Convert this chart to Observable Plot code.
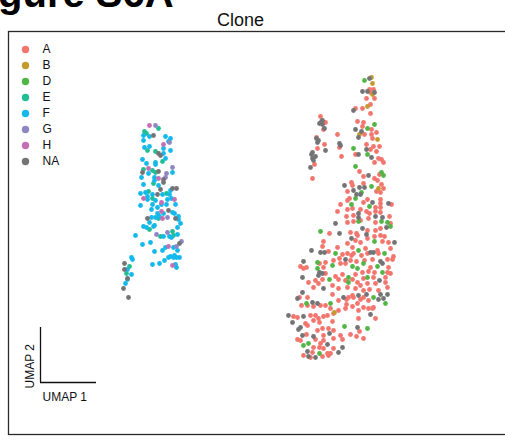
<!DOCTYPE html>
<html>
<head>
<meta charset="utf-8">
<script src="https://cdn.jsdelivr.net/npm/d3@7"></script>
<script src="https://cdn.jsdelivr.net/npm/@observablehq/plot@0.6"></script>
<style>
  html, body { margin: 0; padding: 0; background: #fff; overflow: hidden; }
  #wrap { position: relative; width: 505px; height: 441px; }
  #wrap > svg { position: absolute; left: 0; top: 0; }
</style>
</head>
<body>
<div id="wrap"></div>
<script>
// Clone categories, their colours and labels
const categories = ["A", "B", "D", "E", "F", "G", "H", "NA"];
const cloneColors = ["#F3766E", "#C39A2D", "#52B646", "#22BD93", "#14B9EB", "#8E87C3", "#C56EB3", "#747476"];
const plotTitle = "Clone";
const figureLabel = "Figure S6A";
const axisLabels = ["UMAP 1", "UMAP 2"];

// UMAP embedding: [UMAP1, UMAP2] per cell (UMAP2 grows downward in these units)
const cloneA = [
  [369,89],[373,89],[370,92],[366,98],[374,98],[370,104],[362,108],[355,108],[370,113],[357,121],[363,122],[362,126],[371,129],[376,132],[364,134],[371,134],[372,138],[366,144],[379,146],[373,146],[370,149],[376,151],[355,154],[378,158],[381,159],[383,162],[374,162],[359,171],[363,176],[379,174],[374,178],[377,180],[351,182],[363,183],[352,185],[381,184],[383,188],[347,191],[376,191],[380,192],[349,198],[367,199],[380,199],
  [320,116],[325,122],[323,129],[316,137],[324,144],[317,148],[314,164],[312,178],[337,134],[339,147],[341,156],[347,200],
  [340,204],[363,202],[380,203],[391,204],[375,207],[380,207],[337,211],[347,209],[352,208],[360,209],[366,211],[375,211],[380,212],[369,213],[346,216],[353,215],[389,216],[360,220],[368,218],[347,222],[353,221],[375,222],[390,223],[329,233],[350,232],[356,233],[367,230],[375,230],[380,228],[357,235],[374,236],[380,235],[384,236],[323,241],[347,243],[355,240],[360,242],[367,238],[382,241],[388,242],[322,246],[337,247],[352,247],[365,248],[377,250],[390,248],[328,251],[342,254],[347,253],[351,255],[353,253],[361,255],[367,253],[378,253],[393,256],
  [319,263],[325,262],[333,260],[339,258],[350,260],[356,261],[364,260],[372,259],[387,259],[392,259],[300,266],[303,268],[306,267],[323,267],[340,263],[345,263],[370,267],[388,267],[325,273],[335,276],[342,274],[355,274],[362,272],[368,271],[374,272],[387,272],[390,273],[308,282],[315,280],[322,279],[338,279],[345,280],[352,279],[357,282],[363,278],[373,277],[385,277],[318,283],[332,285],[360,285],[367,283],[375,283],[385,282],[313,287],[338,288],[347,287],[355,288],[363,290],[369,289],[378,290],[387,287],[332,294],[352,295],[299,297],[307,297],
  [320,305],[325,305],[338,300],[346,299],[348,297],[353,297],[360,299],[363,297],[368,300],[301,305],[307,305],[313,306],[346,304],[352,306],[357,303],[363,307],[373,307],[330,308],[338,310],[345,308],[293,316],[297,317],[310,315],[315,315],[318,318],[323,316],[327,315],[333,313],[358,310],[368,308],[372,308],[375,318],[305,323],[313,320],[319,322],[332,321],[358,318],[317,330],[322,328],[328,328],[333,330],[307,325],[359,331],[306,334],[323,335],[340,335],[350,334],[356,336],[363,338],[297,339],[300,340],[315,339],[323,340],[333,338],[342,339],[320,343],[313,347],[319,347],[323,348],[333,348],[312,352],[327,353],[330,353],[303,355],[322,356],[328,355],[310,357]
];
const cloneB = [[371,77],[372,83],[372,94],[367,106],[359,134],[377,139],[378,188],[334,312]];
const cloneD = [
  [364,80],[374,124],[367,128],[353,148],[367,154],[355,166],[381,172],[383,175],[371,186],[361,192],[355,198],
  [351,204],[369,206],[381,221],[387,222],[358,221],[320,231],[390,226],[374,241],[358,250],[335,253],[384,253],[317,262],[317,268],[332,265],[352,266],[357,268],[363,263],[377,266],[329,279],[348,277],[382,272],[367,277],[348,282],[373,297],[330,303],[385,303],[306,303],[344,326],[367,328],[303,345],[308,343],[319,353]
];
const cloneE = [
  [158,128],[144,131],[146,133],[147,150],[155,151],[162,161],[143,169],[152,170],[155,172],[153,183],[148,191],[166,193],[152,198],[158,218],[149,229],[160,236],[172,231],[173,235],[129,266],[126,273]
];
const cloneF = [
  [143,135],[149,136],[165,136],[170,138],[143,140],[168,141],[149,146],[144,147],[163,148],[170,150],[163,153],[165,158],[142,159],[155,162],[146,163],[155,164],[148,173],[172,172],[141,177],[154,177],[154,180],[158,185],[143,184],[170,190],[140,193],[145,192],[152,194],[162,194],[169,194],[147,196],[147,199],[155,200],[167,199],[171,198],[152,204],[140,205],[161,204],[166,204],[175,204],[151,209],[157,207],[172,212],[157,213],[163,213],[174,213],[159,216],[155,217],[151,217],[178,219],[178,216],[149,222],[154,225],[180,223],[143,226],[146,227],[153,226],[177,227],[135,235],[163,236],[169,236],[177,234],[171,237],[142,244],[150,242],[173,247],[165,247],[154,251],[162,250],[177,250],[168,257],[170,256],[173,257],[176,257],[179,257],[174,255],[164,260],[152,264],[159,263],[175,264],[176,267],[131,257],[132,259],[127,269],[131,274],[127,279],[125,283]
];
const cloneG = [[155,125],[169,142],[172,167],[166,173],[165,177],[167,217],[156,234],[167,232],[181,241],[176,246]];
const cloneH = [[149,125],[163,144],[148,168],[158,178],[143,198],[161,202],[174,199],[161,211],[162,218],[168,246],[172,265]];
const cloneNA = [
  [153,135],[158,153],[160,155],[142,172],[158,171],[163,179],[163,182],[160,189],[172,188],[176,188],[157,194],[168,210],[147,218],[175,218],[179,243],[124,263],[124,269],[127,278],[123,288],[128,297],
  [369,78],[362,91],[367,91],[374,92],[353,110],[355,129],[361,131],[358,137],[366,149],[358,154],[371,157],[368,175],[344,185],[359,187],[364,187],[353,190],[356,194],[360,194],
  [322,120],[319,123],[321,121],[322,124],[324,128],[316,138],[318,140],[317,142],[325,150],[312,152],[311,154],[315,156],[312,158],[313,160],[310,167],[339,143],[340,145],
  [372,202],[388,203],[358,213],[358,217],[375,216],[382,217],[335,223],[339,233],[362,228],[386,227],[351,238],[366,234],[394,242],[311,250],[320,252],[324,252],[370,252],[373,252],[303,261],[345,259],[380,261],[382,263],[302,277],[319,272],[322,273],[318,275],[379,280],[323,288],[302,292],[343,297],[358,295],[366,294],[380,294],[387,294],[297,298],[312,302],[317,303],[378,299],[383,298],[288,315],[303,316],[370,314],[292,322],[300,327],[298,329],[357,327],[302,335],[313,336],[329,333],[327,344],[342,347],[307,351],[338,352],[308,356],[315,357]
];

const byClone = {A: cloneA, B: cloneB, D: cloneD, E: cloneE, F: cloneF, G: cloneG, H: cloneH, NA: cloneNA};
const cells = categories.flatMap(c => byClone[c].map(([u1, u2]) => ({umap1: u1, umap2: u2, clone: c})));

const W = 505, H = 441;
const font = "Liberation Sans, Arial, Helvetica, sans-serif";
const colorScale = {domain: categories, range: cloneColors};

// Main scatter panel
const main = Plot.plot({
  width: W, height: H,
  marginLeft: 8, marginRight: -4, marginTop: 31, marginBottom: 7,
  style: {background: "transparent", fontFamily: font},
  x: {domain: [8, 509], axis: null},
  y: {domain: [434, 31], axis: null},
  color: colorScale,
  marks: [
    Plot.frame({stroke: "#2a2a2a", strokeWidth: 1.3}),
    Plot.dot(cells, {x: "umap1", y: "umap2", fill: "clone", r: 2.4, stroke: "none"})
  ]
});

// Legend overlay
const legend = Plot.plot({
  width: W, height: H,
  marginLeft: 25, marginRight: 0, marginTop: 0, marginBottom: 0,
  style: {background: "transparent", fontFamily: font},
  y: {type: "point", domain: categories, range: [47.5, 163], padding: 0, axis: null},
  color: colorScale,
  marks: [
    Plot.dot(categories, {y: d => d, fill: d => d, r: 3.7, frameAnchor: "left", stroke: "none"}),
    Plot.text(categories, {y: d => d, text: d => d, frameAnchor: "left", dx: 17, textAnchor: "start", lineAnchor: "middle", fontSize: 12, fill: "#111"})
  ]
});

// UMAP guide + titles overlay
const guide = Plot.plot({
  width: W, height: H,
  marginLeft: 40, marginRight: W - 96, marginTop: 327, marginBottom: H - 382,
  style: {background: "transparent", fontFamily: font},
  x: {domain: [0, 1], axis: null},
  y: {domain: [0, 1], axis: null},
  marks: [
    Plot.ruleX([0], {stroke: "#111", strokeWidth: 1.3}),
    Plot.ruleY([0], {stroke: "#111", strokeWidth: 1.3}),
    Plot.text([axisLabels[0]], {frameAnchor: "bottom-left", dx: 2, dy: 15, textAnchor: "start", lineAnchor: "middle", fontSize: 12, fill: "#111"}),
    Plot.text([axisLabels[1]], {frameAnchor: "bottom-left", dx: -10, dy: 6, rotate: -90, textAnchor: "start", lineAnchor: "middle", fontSize: 12, fill: "#111"}),
    Plot.text([plotTitle], {frameAnchor: "top-left", dx: 240 - 40, dy: 19.5 - 327, textAnchor: "middle", lineAnchor: "middle", fontSize: 18, fill: "#111"}),
    Plot.text([figureLabel], {frameAnchor: "top-left", dx: -38 - 40, dy: 6 - 327, textAnchor: "start", lineAnchor: "bottom", fontSize: 40, fontWeight: "bold", fill: "#000"})
  ]
});

const wrap = document.getElementById("wrap");
wrap.append(main, legend, guide);
</script>
</body>
</html>
